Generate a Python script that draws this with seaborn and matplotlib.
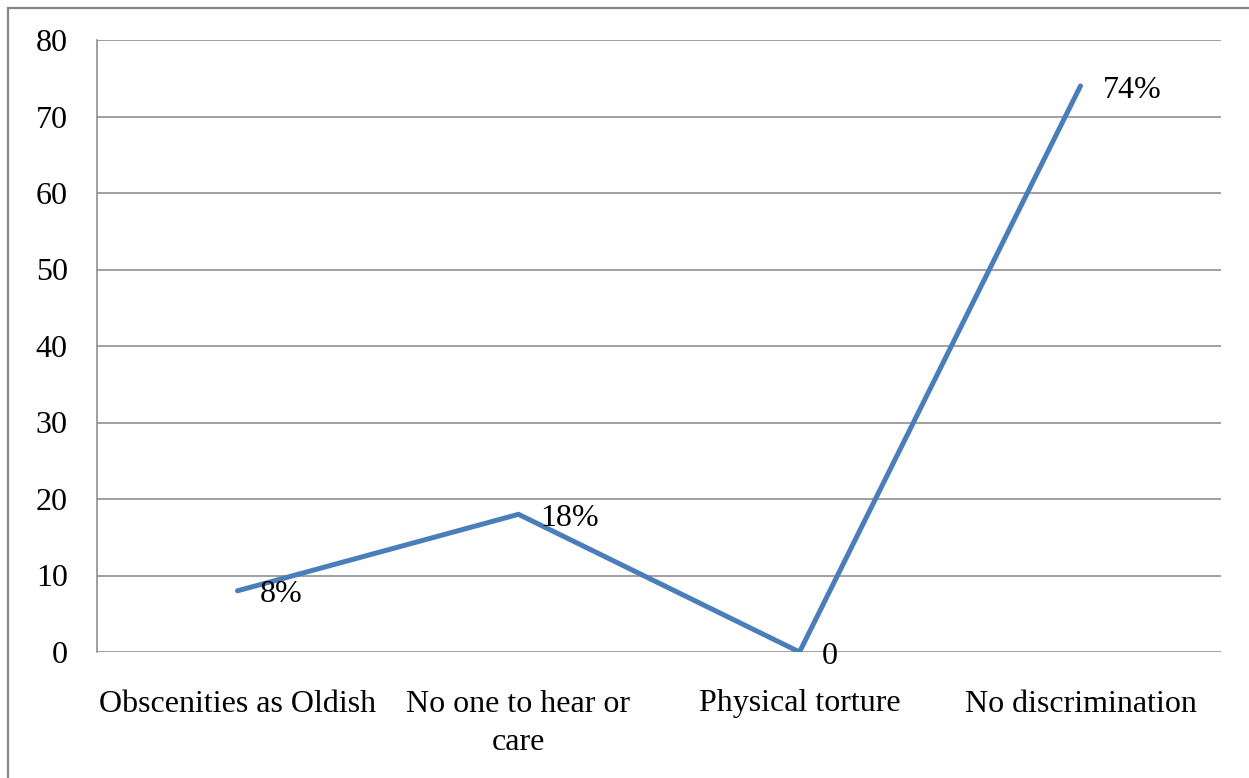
import matplotlib
matplotlib.use("Agg")
import matplotlib.pyplot as plt
from matplotlib.patches import Rectangle
import seaborn as sns
import pandas as pd

categories = ["Obscenities as Oldish", "No one to hear or\ncare", "Physical torture", "No discrimination"]
values = [8, 18, 0, 74]
value_labels = ["8%", "18%", "0", "74%"]
y_ticks = [0, 10, 20, 30, 40, 50, 60, 70, 80]

sns.set_theme(style="white")
plt.rcParams["font.family"] = ["Liberation Serif", "DejaVu Serif"]

GRID = "#868686"
LINE = "#4a7ebb"
FS = 23

df = pd.DataFrame({"category": categories, "value": values})
pos = list(range(len(categories)))
df["pos"] = pos

fig = plt.figure(figsize=(12.49, 7.78), dpi=100)
ax = fig.add_axes([97 / 1249, 1 - 652 / 778, (1221 - 97) / 1249, (652 - 40) / 778])

sns.lineplot(data=df, x="pos", y="value", ax=ax, color=LINE, linewidth=3.6,
             solid_capstyle="round", solid_joinstyle="miter", sort=False)

ax.set_xlim(-0.5, len(categories) - 0.5)
ax.set_ylim(0, 80)
ax.set_yticks(y_ticks)
ax.set_yticklabels([str(t) for t in y_ticks], fontsize=FS)
ax.set_xticks(pos)
ax.set_xticklabels(categories, fontsize=FS, linespacing=1.42)
ax.tick_params(axis="both", length=0, colors="black")
ax.tick_params(axis="y", pad=21)
ax.tick_params(axis="x", pad=27)
ax.set_xlabel("")
ax.set_ylabel("")

ax.yaxis.grid(True, color=GRID, linewidth=1.1)
ax.xaxis.grid(False)
ax.set_axisbelow(True)
for side in ["top", "right", "bottom"]:
    ax.spines[side].set_visible(False)
ax.spines["left"].set_color(GRID)
ax.spines["left"].set_linewidth(1.1)

for x, v, lab in zip(pos, values, value_labels):
    ax.annotate(lab, (x, v), xytext=(16, -3), textcoords="offset points",
                ha="left", va="center", fontsize=FS, color="black")

# outer chart frame
fig.patches.append(Rectangle((8 / 1249, -0.5), 2.0, 1 - 8 / 778 + 0.5,
                             transform=fig.transFigure, fill=False,
                             edgecolor=GRID, linewidth=1.6))

fig.savefig("out.png", dpi=100)
